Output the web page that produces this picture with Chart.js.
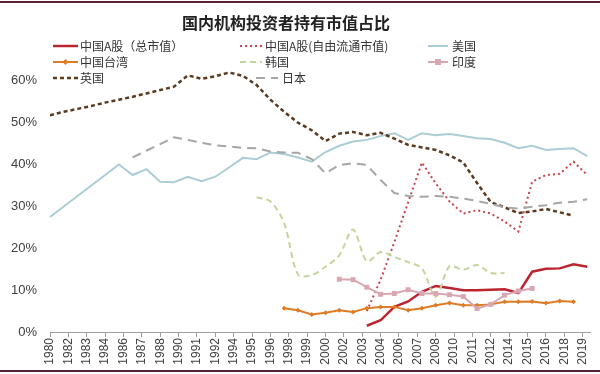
<!DOCTYPE html>
<html>
<head>
<meta charset="utf-8">
<script src="https://cdn.jsdelivr.net/npm/chart.js@4.4.1/dist/chart.umd.min.js"></script>
<style>
html, body { margin: 0; padding: 0; background: #fff; }
#wrap { position: relative; width: 600px; height: 374px; overflow: hidden; }
#c { position: absolute; left: 0; top: 0; }
.rule { position: absolute; left: 0; width: 600px; height: 2px; background: #5a2231; }
#title { position: absolute; left: 182px; top: 12px; font: bold 16px "Noto Sans CJK SC", sans-serif; color: #222; line-height: 20px; white-space: nowrap; }
.lg { position: absolute; font: 12px "Noto Sans CJK SC", sans-serif; color: #333; line-height: 14px; white-space: nowrap; }
.lgs { position: absolute; }
</style>
</head>
<body>
<div id="wrap">
  <div class="rule" style="top:1px"></div>
  <div class="rule" style="top:370px"></div>
  <canvas id="c" width="600" height="374"></canvas>
  <div id="title">国内机构投资者持有市值占比</div>
  <div id="legend"></div>
</div>
<script>
const years = [1980, 1981, 1982, 1983, 1984, 1985, 1986, 1987, 1988, 1989,
  1990, 1991, 1992, 1993, 1994, 1995, 1996, 1997, 1998, 1999,
  2000, 2001, 2002, 2003, 2004, 2005, 2006, 2007, 2008, 2009,
  2010, 2011, 2012, 2013, 2014, 2015, 2016, 2017, 2018, 2019]

const tickLabels = ['1980', '1982', '1983', '1984', '1986', '1987', '1988', '1990', '1991', '1992',
  '1994', '1995', '1996', '1998', '1999', '2000', '2002', '2003', '2004', '2006',
  '2007', '2008', '2010', '2011', '2012', '2014', '2015', '2016', '2018', '2019']

// values in %
const aShareTotal = [null, null, null, null, null, null, null, null, null, null,
  null, null, null, null, null, null, null, null, null, null,
  null, null, null, 1.5, 2.8, 6.0, 7.3, 9.6, 11.0, 10.5,
  10.0, 10.0, 10.1, 10.2, 9.3, 14.4, 15.1, 15.2, 16.2, 15.6]

const aShareFree = [null, null, null, null, null, null, null, null, null, null,
  null, null, null, null, null, null, null, null, null, null,
  null, null, null, 5.0, 12.5, 21.5, 31.0, 40.5, 35.5, 31.2,
  28.3, 29.1, 28.3, 26.4, 24.0, 35.9, 37.5, 37.8, 40.7, 37.5]

const usa = [27.5, 30.0, 32.5, 35.0, 37.5, 40.0, 37.5, 38.9, 35.9, 35.8,
  37.1, 36.0, 37.1, 39.3, 41.6, 41.3, 42.9, 42.5, 41.7, 40.7,
  43.0, 44.5, 45.5, 45.9, 46.8, 47.5, 45.9, 47.5, 47.0, 47.3,
  46.8, 46.3, 46.1, 45.2, 43.9, 44.5, 43.5, 43.7, 43.9, 42.0]

const taiwan = [null, null, null, null, null, null, null, null, null, null,
  null, null, null, null, null, null, null, 5.7, 5.2, 4.2,
  4.6, 5.2, 4.8, 5.7, 6.0, 6.0, 5.2, 5.7, 6.4, 6.9,
  6.4, 6.4, 6.6, 7.2, 7.2, 7.3, 6.9, 7.4, 7.2, null]

const korea = [null, null, null, null, null, null, null, null, null, null,
  null, null, null, null, null, 32.2, 31.2, 26.0, 13.7, 13.6,
  15.6, 18.3, 24.5, 16.9, 19.1, 17.9, 16.7, 15.2, 8.4, 15.7,
  14.9, 16.0, 14.1, 14.1, null, null, null, null, null, null]

const india = [null, null, null, null, null, null, null, null, null, null,
  null, null, null, null, null, null, null, null, null, null,
  null, 12.6, 12.5, 10.7, 9.0, 9.2, 10.1, 9.2, 9.2, 8.9,
  8.5, 5.6, 6.6, 8.8, 9.8, 10.4, null, null, null, null]

const uk = [51.8, 52.6, 53.3, 54.0, 54.8, 55.5, 56.2, 57.0, 57.8, 58.6,
  61.3, 60.5, 61.1, 62.0, 61.2, 59.0, 55.5, 52.6, 50.0, 48.2,
  45.6, 47.4, 47.8, 47.0, 47.6, 46.2, 44.7, 44.1, 43.5, 42.2,
  40.5, 35.6, 31.0, 29.8, 28.4, 28.8, 29.4, 28.6, 27.8, null]

const japan = [null, null, null, null, null, null, 41.7, 43.3, 44.9, 46.5,
  45.9, 45.2, 44.6, 44.3, 44.0, 43.9, 43.1, 42.9, 42.8, 41.3,
  37.9, 39.9, 40.3, 39.9, 36.3, 33.2, 32.5, 32.3, 32.5, 32.3,
  31.9, 31.3, 30.6, 29.8, 29.5, 29.9, 30.3, 30.9, 31.1, 31.7]

const series = [
  { label: '中国A股（总市值）', data: aShareTotal, color: '#bc2430', width: 2.5, dash: [] },
  { label: '中国A股(自由流通市值)', data: aShareFree, color: '#c8444c', width: 2, dash: [2, 3] },
  { label: '美国', data: usa, color: '#abcdd6', width: 2, dash: [] },
  { label: '中国台湾', data: taiwan, color: '#de7b26', width: 2, dash: [], point: 'rectRot', radius: 2.5 },
  { label: '韩国', data: korea, color: '#c3d59c', width: 2, dash: [6, 4], tension: 0.3 },
  { label: '印度', data: india, color: '#d9a7b2', width: 2, dash: [], point: 'rect', radius: 3.5 },
  { label: '英国', data: uk, color: '#5b3b20', width: 2.5, dash: [4, 3] },
  { label: '日本', data: japan, color: '#a6a6a6', width: 2, dash: [9, 6] }
]

// legend: sampleX, sampleWidth, textX, centerY
const legendSlots = [
  [53, 25, 80, 46], [240, 22, 265, 46], [428, 20, 452, 46],
  [53, 25, 80, 62], [240, 22, 265, 62], [428, 20, 452, 62],
  [53, 25, 80, 78], [256, 22, 282, 78]
]

const legend = document.getElementById('legend')
series.forEach((s, i) => {
  const [sx, sw, tx, cy] = legendSlots[i]
  let mark = ''
  if (s.point == 'rectRot') {
    mark = `<polygon points="${sw / 2},${7 - 3} ${sw / 2 + 3},7 ${sw / 2},${7 + 3} ${sw / 2 - 3},7" fill="${s.color}"/>`
  } else if (s.point == 'rect') {
    mark = `<rect x="${sw / 2 - 3}" y="4" width="6" height="6" fill="${s.color}"/>`
  }
  legend.insertAdjacentHTML('beforeend',
    `<svg class="lgs" style="left:${sx}px;top:${cy - 7}px" width="${sw}" height="14">
      <line x1="0" y1="7" x2="${sw}" y2="7" stroke="${s.color}" stroke-width="${s.width}" stroke-dasharray="${s.dash.join(',')}"/>${mark}
    </svg>
    <div class="lg" style="left:${tx}px;top:${cy - 7}px">${s.label}</div>`)
})

const ctx = document.getElementById('c')

new Chart(ctx, {
  type: 'line',
  data: {
    labels: years,
    datasets: series.map((s, i) => ({
      label: s.label,
      data: s.data,
      borderColor: s.color,
      backgroundColor: s.color,
      borderWidth: s.width,
      borderDash: s.dash,
      pointStyle: s.point || 'circle',
      pointRadius: s.point ? s.radius : 0,
      pointBorderWidth: 0,
      tension: s.tension || 0,
      fill: false,
      order: series.length - i
    }))
  },
  options: {
    responsive: false,
    animation: false,
    layout: { padding: { top: 39, right: 10, left: 0, bottom: 0 } },
    plugins: {
      legend: { display: false },
      title: { display: false },
      tooltip: { enabled: false }
    },
    scales: {
      x: {
        type: 'linear',
        min: 1980,
        max: 2019.2,
        afterFit: scale => { scale.height = 42 },
        afterBuildTicks: scale => {
          scale.ticks = tickLabels.map((t, i) => ({ value: 1980 + i * 4 / 3 }))
        },
        grid: { drawOnChartArea: false, tickLength: 5, color: '#a0a0a0' },
        border: { color: '#a0a0a0' },
        ticks: {
          autoSkip: false,
          minRotation: 90,
          maxRotation: 90,
          padding: 1,
          color: '#404040',
          font: { family: 'Liberation Sans, Arial', size: 12 },
          callback: (v, i) => tickLabels[i]
        }
      },
      y: {
        min: 0,
        max: 70,
        afterFit: scale => { scale.width = 50 },
        grid: { display: false, drawTicks: false },
        border: { display: false },
        ticks: {
          stepSize: 10,
          padding: 13,
          color: '#404040',
          font: { family: 'Liberation Sans, Arial', size: 13 },
          callback: v => v > 60 ? '' : v + '%'
        }
      }
    }
  }
})
</script>
</body>
</html>
